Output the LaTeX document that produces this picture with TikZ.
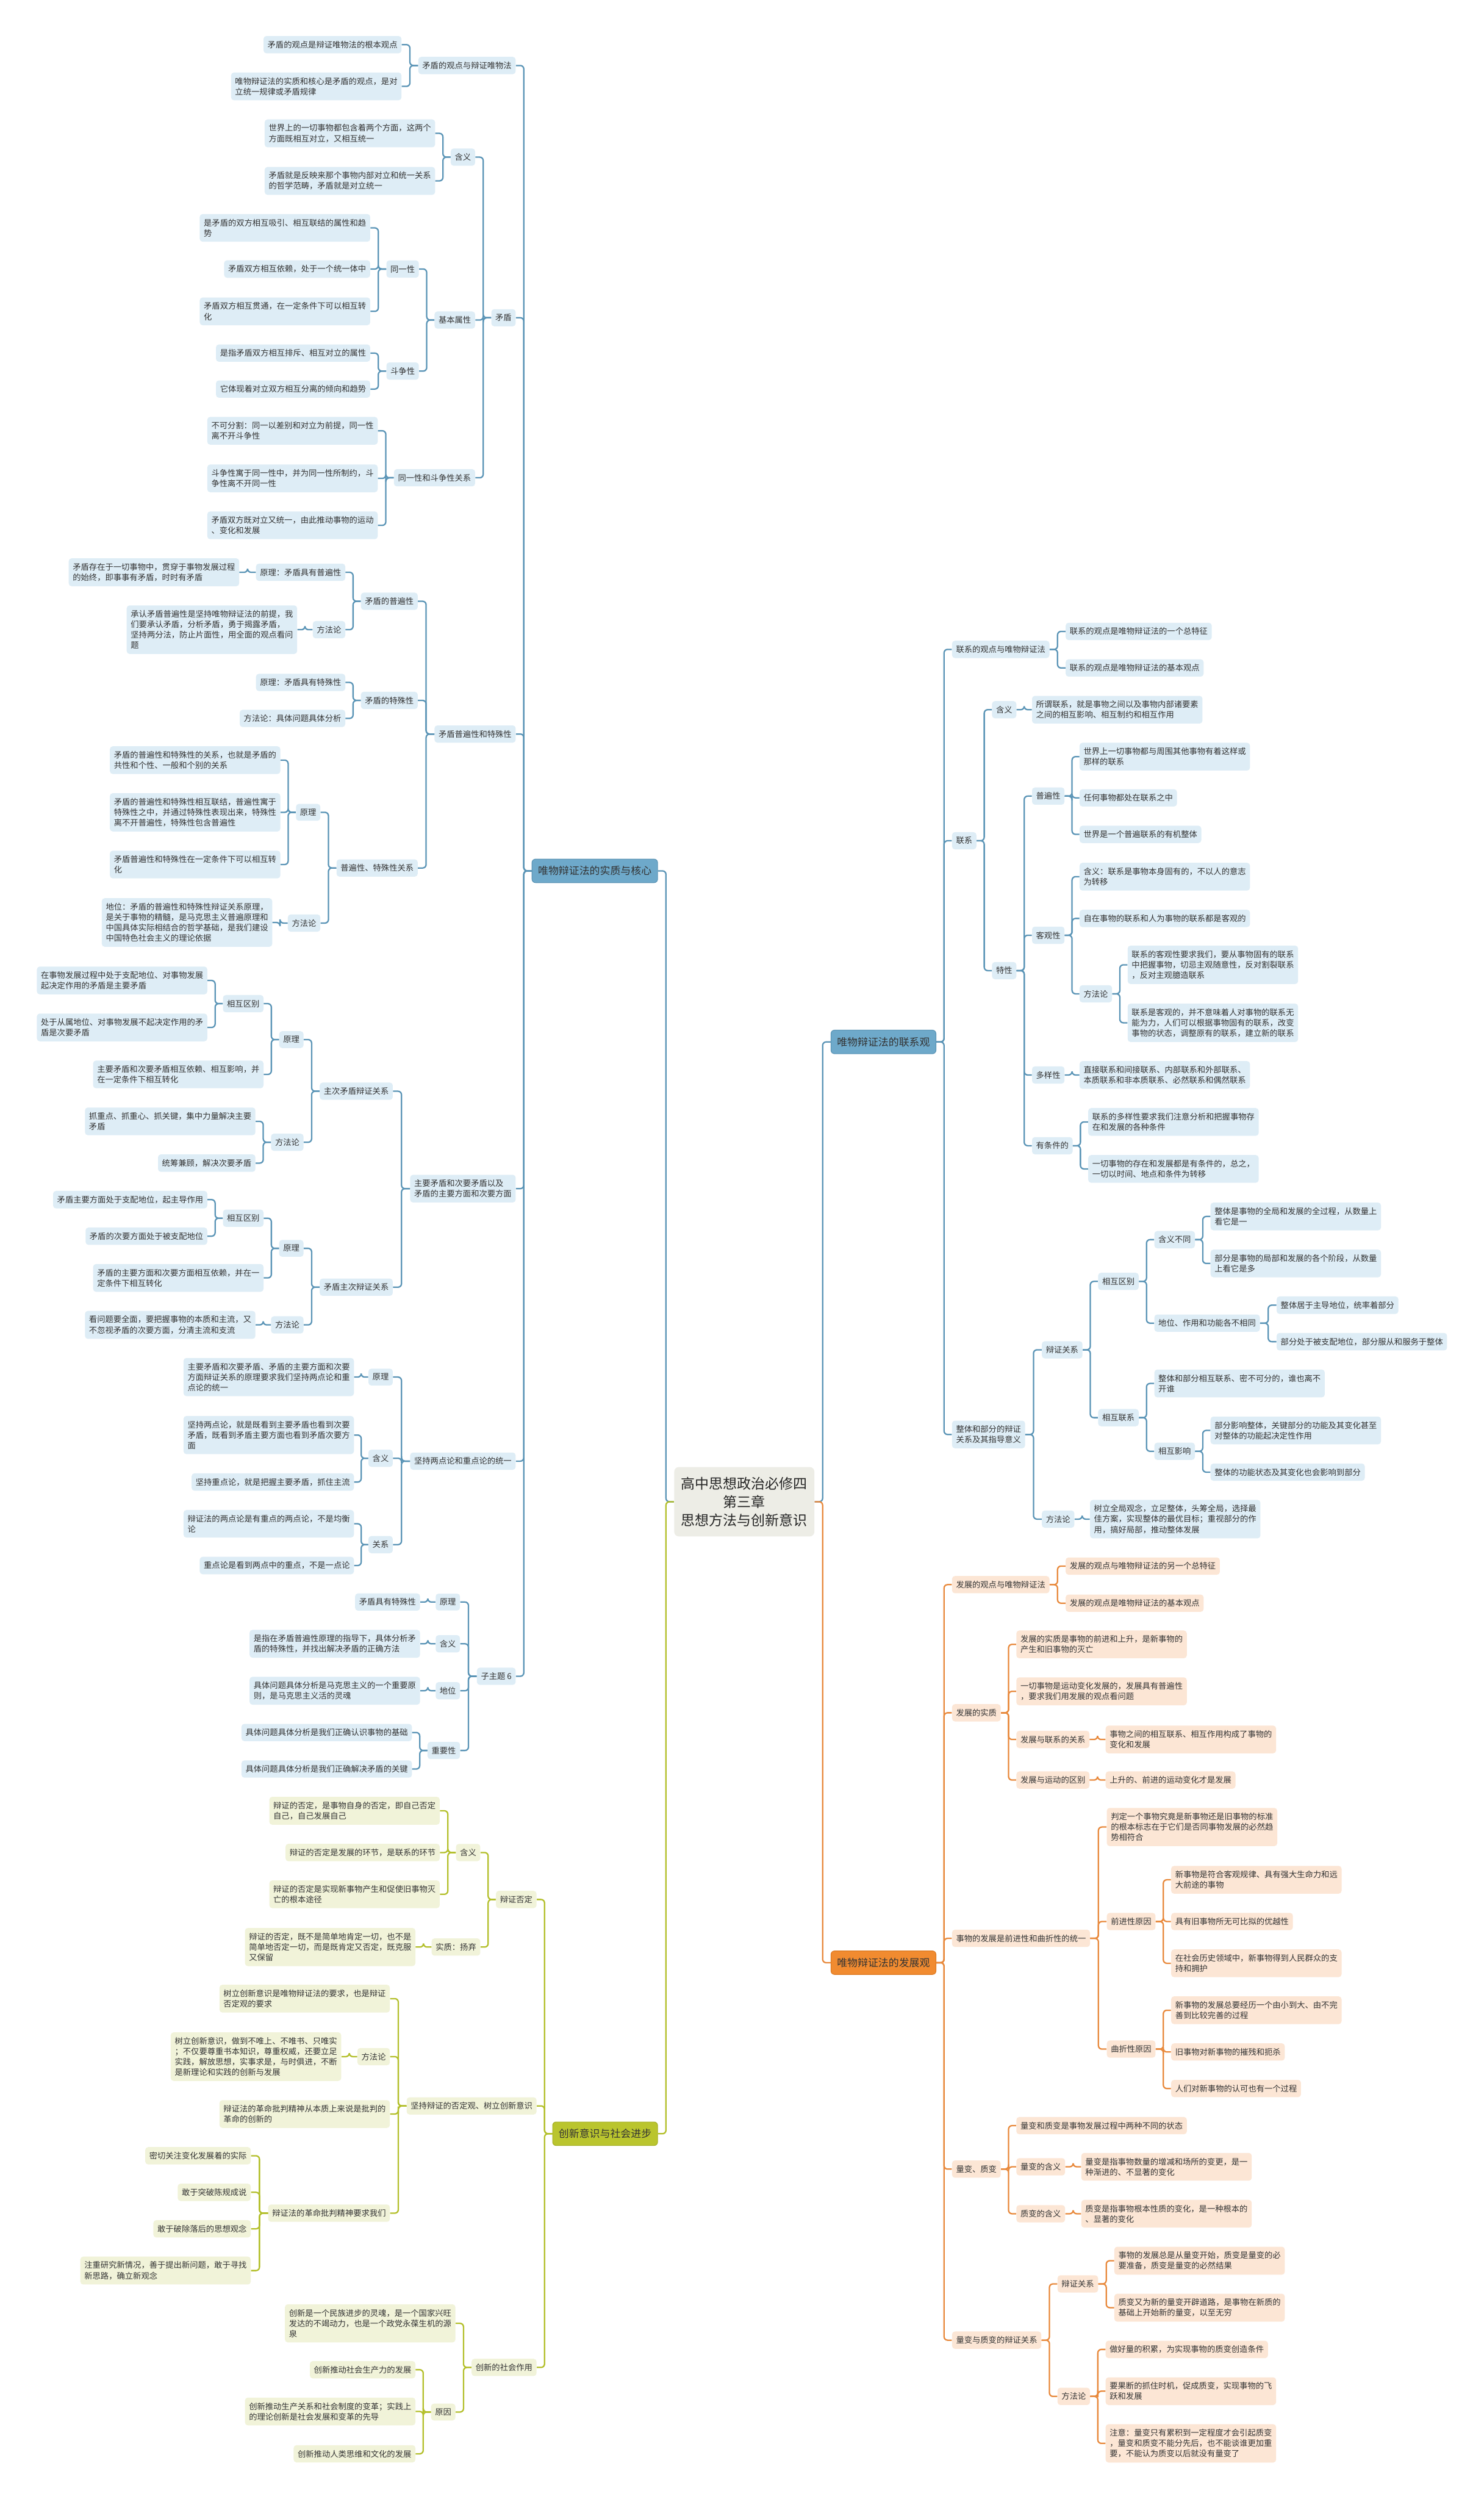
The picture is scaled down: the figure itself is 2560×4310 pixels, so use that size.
\documentclass[tikz,border=0pt]{standalone}
\usepackage{fontspec}
\setmainfont{Noto Sans CJK SC}
\usetikzlibrary{calc}
\definecolor{txt}{HTML}{333333}
\definecolor{bF}{HTML}{DEEDF6}
\definecolor{bL}{HTML}{5A94B6}
\definecolor{bM}{HTML}{6EA9CA}
\definecolor{bMd}{HTML}{5B95B6}
\definecolor{gF}{HTML}{F1F3D9}
\definecolor{gL}{HTML}{B3BF2A}
\definecolor{gM}{HTML}{BAC52E}
\definecolor{gMd}{HTML}{A5B024}
\definecolor{oF}{HTML}{FCE6D5}
\definecolor{oL}{HTML}{E8893C}
\definecolor{oM}{HTML}{F18B30}
\definecolor{oMd}{HTML}{DD7A22}
\definecolor{cF}{HTML}{EDEDE6}
\newcommand\fs{\fontsize{7}{9}\selectfont}
\newcommand\fm{\fontsize{8.9}{11}\selectfont}
\newcommand\fc{\fontsize{12.1}{15.8}\selectfont}
\newcommand\LC[3]{\draw[#1] (#2.west) -| ($(#2.west)!.5!(#3.east)$) |- (#3.east);}
\newcommand\RC[3]{\draw[#1] (#2.east) -| ($(#2.east)!.5!(#3.west)$) |- (#3.west);}
\tikzset{
 base/.style={rounded corners=2.5pt, inner xsep=3.5pt, inner ysep=4.2pt, align=left, text=txt, font=\fs},
 nb/.style={base, fill=bF}, ng/.style={base, fill=gF}, no/.style={base, fill=oF},
 L/.style={anchor=east}, R/.style={anchor=west},
 mainbox/.style={rounded corners=3pt, line width=0.6pt, inner xsep=5.2pt, inner ysep=6pt, font=\fm, text=txt},
 mB/.style={mainbox, fill=bM, draw=bMd},
 mG/.style={mainbox, fill=gM, draw=gMd},
 mO/.style={mainbox, fill=oM, draw=oMd},
 eb/.style={draw=bL, line width=1.2pt, rounded corners=3pt},
 eg/.style={draw=gL, line width=1.2pt, rounded corners=3pt},
 eo/.style={draw=oL, line width=1.2pt, rounded corners=3pt},
 topic/.style={rounded corners=4pt, fill=cF, align=center, font=\fc, text=black!85, inner xsep=6pt, inner ysep=8.5pt}
}
\begin{document}
\begin{tikzpicture}[x=0.5pt,y=-0.5pt]
\useasboundingbox[fill=white] (0,0) rectangle (2560,4310);
% center
\node[topic] (T) at (1284,2590) {高中思想政治必修四\\第三章\\思想方法与创新意识};
% ===== left blue =====
\node[mB,L] (A) at (1135,1502) {唯物辩证法的实质与核心};
\node[nb,L] (A1) at (890,113) {矛盾的观点与辩证唯物法};
\node[nb,L] (A1a) at (693,77) {矛盾的观点是辩证唯物法的根本观点};
\node[nb,L] (A1b) at (693,149) {唯物辩证法的实质和核心是矛盾的观点，是对\\立统一规律或矛盾规律};
\node[nb,L] (A2) at (890,548) {矛盾};
\node[nb,L] (A2a) at (820,271) {含义};
\node[nb,L] (A2a1) at (751,230) {世界上的一切事物都包含着两个方面，这两个\\方面既相互对立，又相互统一};
\node[nb,L] (A2a2) at (751,312) {矛盾就是反映来那个事物内部对立和统一关系\\的哲学范畴，矛盾就是对立统一};
\node[nb,L] (A2b) at (820,552) {基本属性};
\node[nb,L] (A2b1) at (723,464) {同一性};
\node[nb,L] (A2b1a) at (639,393) {是矛盾的双方相互吸引、相互联结的属性和趋\\势};
\node[nb,L] (A2b1b) at (639,464) {矛盾双方相互依赖，处于一个统一体中};
\node[nb,L] (A2b1c) at (639,537) {矛盾双方相互贯通，在一定条件下可以相互转\\化};
\node[nb,L] (A2b2) at (723,640) {斗争性};
\node[nb,L] (A2b2a) at (639,609) {是指矛盾双方相互排斥、相互对立的属性};
\node[nb,L] (A2b2b) at (639,671) {它体现着对立双方相互分离的倾向和趋势};
\node[nb,L] (A2c) at (820,824) {同一性和斗争性关系};
\node[nb,L] (A2c1) at (652,743) {不可分割：同一以差别和对立为前提，同一性\\离不开斗争性};
\node[nb,L] (A2c2) at (652,825) {斗争性寓于同一性中，并为同一性所制约，斗\\争性离不开同一性};
\node[nb,L] (A2c3) at (652,906) {矛盾双方既对立又统一，由此推动事物的运动\\、变化和发展};
\node[nb,L] (A3) at (890,1266) {矛盾普遍性和特殊性};
\node[nb,L] (A3a) at (721,1037) {矛盾的普遍性};
\node[nb,L] (A3a1) at (596,987) {原理：矛盾具有普遍性};
\node[nb,L] (A3a1a) at (413,987) {矛盾存在于一切事物中，贯穿于事物发展过程\\的始终，即事事有矛盾，时时有矛盾};
\node[nb,L] (A3a2) at (596,1086) {方法论};
\node[nb,L] (A3a2a) at (513,1086) {承认矛盾普遍性是坚持唯物辩证法的前提，我\\们要承认矛盾，分析矛盾，勇于揭露矛盾，\\坚持两分法，防止片面性，用全面的观点看问\\题};
\node[nb,L] (A3b) at (721,1208) {矛盾的特殊性};
\node[nb,L] (A3b1) at (596,1177) {原理：矛盾具有特殊性};
\node[nb,L] (A3b2) at (596,1239) {方法论：具体问题具体分析};
\node[nb,L] (A3c) at (721,1497) {普遍性、特殊性关系};
\node[nb,L] (A3c1) at (553,1401) {原理};
\node[nb,L] (A3c1a) at (484,1311) {矛盾的普遍性和特殊性的关系，也就是矛盾的\\共性和个性、一般和个别的关系};
\node[nb,L] (A3c1b) at (484,1401) {矛盾的普遍性和特殊性相互联结，普遍性寓于\\特殊性之中，并通过特殊性表现出来，特殊性\\离不开普遍性，特殊性包含普遍性};
\node[nb,L] (A3c1c) at (484,1491) {矛盾普遍性和特殊性在一定条件下可以相互转\\化};
\node[nb,L] (A3c2) at (553,1592) {方法论};
\node[nb,L] (A3c2a) at (470,1591) {地位：矛盾的普遍性和特殊性辩证关系原理，\\是关于事物的精髓，是马克思主义普遍原理和\\中国具体实际相结合的哲学基础，是我们建设\\中国特色社会主义的理论依据};
\node[nb,L] (A4) at (890,2050) {主要矛盾和次要矛盾以及\\矛盾的主要方面和次要方面};
\node[nb,L] (A4a) at (678,1882) {主次矛盾辩证关系};
\node[nb,L] (A4a1) at (524,1793) {原理};
\node[nb,L] (A4a1a) at (455,1731) {相互区别};
\node[nb,L] (A4a1a1) at (358,1691) {在事物发展过程中处于支配地位、对事物发展\\起决定作用的矛盾是主要矛盾};
\node[nb,L] (A4a1a2) at (358,1772) {处于从属地位、对事物发展不起决定作用的矛\\盾是次要矛盾};
\node[nb,L] (A4a1b) at (455,1853) {主要矛盾和次要矛盾相互依赖、相互影响，并\\在一定条件下相互转化};
\node[nb,L] (A4a2) at (524,1970) {方法论};
\node[nb,L] (A4a2a) at (441,1934) {抓重点、抓重心、抓关键，集中力量解决主要\\矛盾};
\node[nb,L] (A4a2b) at (441,2006) {统筹兼顾，解决次要矛盾};
\node[nb,L] (A4b) at (678,2220) {矛盾主次辩证关系};
\node[nb,L] (A4b1) at (524,2153) {原理};
\node[nb,L] (A4b1a) at (455,2101) {相互区别};
\node[nb,L] (A4b1a1) at (358,2069) {矛盾主要方面处于支配地位，起主导作用};
\node[nb,L] (A4b1a2) at (358,2132) {矛盾的次要方面处于被支配地位};
\node[nb,L] (A4b1b) at (455,2204) {矛盾的主要方面和次要方面相互依赖，并在一\\定条件下相互转化};
\node[nb,L] (A4b2) at (524,2285) {方法论};
\node[nb,L] (A4b2a) at (441,2285) {看问题要全面，要把握事物的本质和主流，又\\不忽视矛盾的次要方面，分清主流和支流};
\node[nb,L] (A5) at (890,2520) {坚持两点论和重点论的统一};
\node[nb,L] (A5a) at (678,2375) {原理};
\node[nb,L] (A5a1) at (611,2375) {主要矛盾和次要矛盾、矛盾的主要方面和次要\\方面辩证关系的原理要求我们坚持两点论和重\\点论的统一};
\node[nb,L] (A5b) at (678,2515) {含义};
\node[nb,L] (A5b1) at (611,2475) {坚持两点论，就是既看到主要矛盾也看到次要\\矛盾，既看到矛盾主要方面也看到矛盾次要方\\面};
\node[nb,L] (A5b2) at (611,2556) {坚持重点论，就是把握主要矛盾，抓住主流};
\node[nb,L] (A5c) at (678,2664) {关系};
\node[nb,L] (A5c1) at (611,2628) {辩证法的两点论是有重点的两点论，不是均衡\\论};
\node[nb,L] (A5c2) at (611,2700) {重点论是看到两点中的重点，不是一点论};
\node[nb,L] (A6) at (890,2891) {子主题 6};
\node[nb,L] (A6a) at (794,2763) {原理};
\node[nb,L] (A6a1) at (725,2763) {矛盾具有特殊性};
\node[nb,L] (A6b) at (794,2835) {含义};
\node[nb,L] (A6b1) at (725,2835) {是指在矛盾普遍性原理的指导下，具体分析矛\\盾的特殊性，并找出解决矛盾的正确方法};
\node[nb,L] (A6c) at (794,2916) {地位};
\node[nb,L] (A6c1) at (725,2916) {具体问题具体分析是马克思主义的一个重要原\\则，是马克思主义活的灵魂};
\node[nb,L] (A6d) at (794,3019) {重要性};
\node[nb,L] (A6d1) at (711,2988) {具体问题具体分析是我们正确认识事物的基础};
\node[nb,L] (A6d2) at (711,3051) {具体问题具体分析是我们正确解决矛盾的关键};
% ===== left green =====
\node[mG,L] (G) at (1135,3680) {创新意识与社会进步};
\node[ng,L] (G1) at (926,3276) {辩证否定};
\node[ng,L] (G1a) at (829,3195) {含义};
\node[ng,L] (G1a1) at (759,3123) {辩证的否定，是事物自身的否定，即自己否定\\自己，自己发展自己};
\node[ng,L] (G1a2) at (759,3195) {辩证的否定是发展的环节，是联系的环节};
\node[ng,L] (G1a3) at (759,3267) {辩证的否定是实现新事物产生和促使旧事物灭\\亡的根本途径};
\node[ng,L] (G1b) at (829,3358) {实质：扬弃};
\node[ng,L] (G1b1) at (717,3358) {辩证的否定，既不是简单地肯定一切，也不是\\简单地否定一切，而是既肯定又否定，既克服\\又保留};
\node[ng,L] (G2) at (926,3632) {坚持辩证的否定观、树立创新意识};
\node[ng,L] (G2a) at (673,3447) {树立创新意识是唯物辩证法的要求，也是辩证\\否定观的要求};
\node[ng,L] (G2b) at (673,3547) {方法论};
\node[ng,L] (G2b1) at (589,3547) {树立创新意识，做到不唯上、不唯书、只唯实\\；不仅要尊重书本知识，尊重权威，还要立足\\实践，解放思想，实事求是，与时俱进，不断\\是新理论和实践的创新与发展};
\node[ng,L] (G2c) at (673,3646) {辩证法的革命批判精神从本质上来说是批判的\\革命的创新的};
\node[ng,L] (G2d) at (673,3817) {辩证法的革命批判精神要求我们};
\node[ng,L] (G2d1) at (433,3718) {密切关注变化发展着的实际};
\node[ng,L] (G2d2) at (433,3781) {敢于突破陈规成说};
\node[ng,L] (G2d3) at (433,3844) {敢于破除落后的思想观念};
\node[ng,L] (G2d4) at (433,3916) {注重研究新情况，善于提出新问题，敢于寻找\\新思路，确立新观念};
\node[ng,L] (G3) at (926,4083) {创新的社会作用};
\node[ng,L] (G3a) at (786,4007) {创新是一个民族进步的灵魂，是一个国家兴旺\\发达的不竭动力，也是一个政党永葆生机的源\\泉};
\node[ng,L] (G3b) at (786,4160) {原因};
\node[ng,L] (G3b1) at (717,4087) {创新推动社会生产力的发展};
\node[ng,L] (G3b2) at (717,4159) {创新推动生产关系和社会制度的变革；实践上\\的理论创新是社会发展和变革的先导};
\node[ng,L] (G3b3) at (717,4232) {创新推动人类思维和文化的发展};
% ===== right blue =====
\node[mB,R] (B) at (1433,1797) {唯物辩证法的联系观};
\node[nb,R] (B1) at (1642,1120) {联系的观点与唯物辩证法};
\node[nb,R] (B1a) at (1838,1089) {联系的观点是唯物辩证法的一个总特征};
\node[nb,R] (B1b) at (1838,1152) {联系的观点是唯物辩证法的基本观点};
\node[nb,R] (B2) at (1642,1450) {联系};
\node[nb,R] (B2a) at (1711,1224) {含义};
\node[nb,R] (B2a1) at (1780,1224) {所谓联系，就是事物之间以及事物内部诸要素\\之间的相互影响、相互制约和相互作用};
\node[nb,R] (B2b) at (1711,1674) {特性};
\node[nb,R] (B2b1) at (1780,1373) {普遍性};
\node[nb,R] (B2b1a) at (1862,1305) {世界上一切事物都与周围其他事物有着这样或\\那样的联系};
\node[nb,R] (B2b1b) at (1862,1376) {任何事物都处在联系之中};
\node[nb,R] (B2b1c) at (1862,1439) {世界是一个普遍联系的有机整体};
\node[nb,R] (B2b2) at (1780,1613) {客观性};
\node[nb,R] (B2b2a) at (1862,1512) {含义：联系是事物本身固有的，不以人的意志\\为转移};
\node[nb,R] (B2b2b) at (1862,1584) {自在事物的联系和人为事物的联系都是客观的};
\node[nb,R] (B2b2c) at (1862,1714) {方法论};
\node[nb,R] (B2b2c1) at (1945,1664) {联系的客观性要求我们，要从事物固有的联系\\中把握事物，切忌主观随意性，反对割裂联系\\，反对主观臆造联系};
\node[nb,R] (B2b2c2) at (1945,1764) {联系是客观的，并不意味着人对事物的联系无\\能为力，人们可以根据事物固有的联系，改变\\事物的状态，调整原有的联系，建立新的联系};
\node[nb,R] (B2b3) at (1780,1854) {多样性};
\node[nb,R] (B2b3a) at (1862,1854) {直接联系和间接联系、内部联系和外部联系、\\本质联系和非本质联系、必然联系和偶然联系};
\node[nb,R] (B2b4) at (1780,1976) {有条件的};
\node[nb,R] (B2b4a) at (1877,1935) {联系的多样性要求我们注意分析和把握事物存\\在和发展的各种条件};
\node[nb,R] (B2b4b) at (1877,2016) {一切事物的存在和发展都是有条件的，总之，\\一切以时间、地点和条件为转移};
\node[nb,R] (B3) at (1642,2474) {整体和部分的辩证\\关系及其指导意义};
\node[nb,R] (B3a) at (1797,2328) {辩证关系};
\node[nb,R] (B3a1) at (1894,2210) {相互区别};
\node[nb,R] (B3a1a) at (1991,2138) {含义不同};
\node[nb,R] (B3a1a1) at (2088,2098) {整体是事物的全局和发展的全过程，从数量上\\看它是一};
\node[nb,R] (B3a1a2) at (2088,2179) {部分是事物的局部和发展的各个阶段，从数量\\上看它是多};
\node[nb,R] (B3a1b) at (1991,2282) {地位、作用和功能各不相同};
\node[nb,R] (B3a1b1) at (2202,2251) {整体居于主导地位，统率着部分};
\node[nb,R] (B3a1b2) at (2202,2314) {部分处于被支配地位，部分服从和服务于整体};
\node[nb,R] (B3a2) at (1894,2445) {相互联系};
\node[nb,R] (B3a2a) at (1991,2386) {整体和部分相互联系、密不可分的，谁也离不\\开谁};
\node[nb,R] (B3a2b) at (1991,2503) {相互影响};
\node[nb,R] (B3a2b1) at (2088,2467) {部分影响整体，关键部分的功能及其变化甚至\\对整体的功能起决定性作用};
\node[nb,R] (B3a2b2) at (2088,2539) {整体的功能状态及其变化也会影响到部分};
\node[nb,R] (B3b) at (1797,2620) {方法论};
\node[nb,R] (B3b1) at (1880,2620) {树立全局观念，立足整体，头筹全局，选择最\\佳方案，实现整体的最优目标；重视部分的作\\用，搞好局部，推动整体发展};
% ===== right orange =====
\node[mO,R] (C) at (1433,3385) {唯物辩证法的发展观};
\node[no,R] (C1) at (1642,2733) {发展的观点与唯物辩证法};
\node[no,R] (C1a) at (1838,2701) {发展的观点与唯物辩证法的另一个总特征};
\node[no,R] (C1b) at (1838,2765) {发展的观点是唯物辩证法的基本观点};
\node[no,R] (C2) at (1642,2954) {发展的实质};
\node[no,R] (C2a) at (1753,2836) {发展的实质是事物的前进和上升，是新事物的\\产生和旧事物的灭亡};
\node[no,R] (C2b) at (1753,2917) {一切事物是运动变化发展的，发展具有普遍性\\，要求我们用发展的观点看问题};
\node[no,R] (C2c) at (1753,3000) {发展与联系的关系};
\node[no,R] (C2c1) at (1907,3000) {事物之间的相互联系、相互作用构成了事物的\\变化和发展};
\node[no,R] (C2d) at (1753,3070) {发展与运动的区别};
\node[no,R] (C2d1) at (1907,3070) {上升的、前进的运动变化才是发展};
\node[no,R] (C3) at (1642,3343) {事物的发展是前进性和曲折性的统一};
\node[no,R] (C3a) at (1909,3151) {判定一个事物究竟是新事物还是旧事物的标准\\的根本标志在于它们是否同事物发展的必然趋\\势相符合};
\node[no,R] (C3b) at (1909,3314) {前进性原因};
\node[no,R] (C3b1) at (2020,3242) {新事物是符合客观规律、具有强大生命力和远\\大前途的事物};
\node[no,R] (C3b2) at (2020,3314) {具有旧事物所无可比拟的优越性};
\node[no,R] (C3b3) at (2020,3386) {在社会历史领域中，新事物得到人民群众的支\\持和拥护};
\node[no,R] (C3c) at (1909,3534) {曲折性原因};
\node[no,R] (C3c1) at (2020,3467) {新事物的发展总要经历一个由小到大、由不完\\善到比较完善的过程};
\node[no,R] (C3c2) at (2020,3539) {旧事物对新事物的摧残和扼杀};
\node[no,R] (C3c3) at (2020,3602) {人们对新事物的认可也有一个过程};
\node[no,R] (C4) at (1642,3741) {量变、质变};
\node[no,R] (C4a) at (1753,3666) {量变和质变是事物发展过程中两种不同的状态};
\node[no,R] (C4b) at (1753,3737) {量变的含义};
\node[no,R] (C4b1) at (1865,3737) {量变是指事物数量的增减和场所的变更，是一\\种渐进的、不显著的变化};
\node[no,R] (C4c) at (1753,3818) {质变的含义};
\node[no,R] (C4c1) at (1865,3818) {质变是指事物根本性质的变化，是一种根本的\\、显著的变化};
\node[no,R] (C5) at (1642,4036) {量变与质变的辩证关系};
\node[no,R] (C5a) at (1824,3939) {辩证关系};
\node[no,R] (C5a1) at (1922,3899) {事物的发展总是从量变开始，质变是量变的必\\要准备，质变是量变的必然结果};
\node[no,R] (C5a2) at (1922,3980) {质变又为新的量变开辟道路，是事物在新质的\\基础上开始新的量变，以至无穷};
\node[no,R] (C5b) at (1824,4133) {方法论};
\node[no,R] (C5b1) at (1907,4052) {做好量的积累，为实现事物的质变创造条件};
\node[no,R] (C5b2) at (1907,4124) {要果断的抓住时机，促成质变，实现事物的飞\\跃和发展};
\node[no,R] (C5b3) at (1907,4214) {注意：量变只有累积到一定程度才会引起质变\\，量变和质变不能分先后，也不能谈谁更加重\\要，不能认为质变以后就没有量变了};
% ===== connectors =====
\LC{eb}{T}{A}
\LC{eg}{T}{G}
\RC{eb}{T}{B}
\RC{eo}{T}{C}
\foreach \p/\c in {A/A1,A1/A1a,A1/A1b,A/A2,A2/A2a,A2a/A2a1,A2a/A2a2,A2/A2b,A2b/A2b1,A2b1/A2b1a,A2b1/A2b1b,A2b1/A2b1c,A2b/A2b2,A2b2/A2b2a,A2b2/A2b2b,A2/A2c,A2c/A2c1,A2c/A2c2,A2c/A2c3,
 A/A3,A3/A3a,A3a/A3a1,A3a1/A3a1a,A3a/A3a2,A3a2/A3a2a,A3/A3b,A3b/A3b1,A3b/A3b2,A3/A3c,A3c/A3c1,A3c1/A3c1a,A3c1/A3c1b,A3c1/A3c1c,A3c/A3c2,A3c2/A3c2a,
 A/A4,A4/A4a,A4a/A4a1,A4a1/A4a1a,A4a1a/A4a1a1,A4a1a/A4a1a2,A4a1/A4a1b,A4a/A4a2,A4a2/A4a2a,A4a2/A4a2b,A4/A4b,A4b/A4b1,A4b1/A4b1a,A4b1a/A4b1a1,A4b1a/A4b1a2,A4b1/A4b1b,A4b/A4b2,A4b2/A4b2a,
 A/A5,A5/A5a,A5a/A5a1,A5/A5b,A5b/A5b1,A5b/A5b2,A5/A5c,A5c/A5c1,A5c/A5c2,
 A/A6,A6/A6a,A6a/A6a1,A6/A6b,A6b/A6b1,A6/A6c,A6c/A6c1,A6/A6d,A6d/A6d1,A6d/A6d2}
 {\LC{eb}{\p}{\c}}
\foreach \p/\c in {G/G1,G1/G1a,G1a/G1a1,G1a/G1a2,G1a/G1a3,G1/G1b,G1b/G1b1,G/G2,G2/G2a,G2/G2b,G2b/G2b1,G2/G2c,G2/G2d,G2d/G2d1,G2d/G2d2,G2d/G2d3,G2d/G2d4,G/G3,G3/G3a,G3/G3b,G3b/G3b1,G3b/G3b2,G3b/G3b3}
 {\LC{eg}{\p}{\c}}
\foreach \p/\c in {B/B1,B1/B1a,B1/B1b,B/B2,B2/B2a,B2a/B2a1,B2/B2b,B2b/B2b1,B2b1/B2b1a,B2b1/B2b1b,B2b1/B2b1c,B2b/B2b2,B2b2/B2b2a,B2b2/B2b2b,B2b2/B2b2c,B2b2c/B2b2c1,B2b2c/B2b2c2,B2b/B2b3,B2b3/B2b3a,B2b/B2b4,B2b4/B2b4a,B2b4/B2b4b,
 B/B3,B3/B3a,B3a/B3a1,B3a1/B3a1a,B3a1a/B3a1a1,B3a1a/B3a1a2,B3a1/B3a1b,B3a1b/B3a1b1,B3a1b/B3a1b2,B3a/B3a2,B3a2/B3a2a,B3a2/B3a2b,B3a2b/B3a2b1,B3a2b/B3a2b2,B3/B3b,B3b/B3b1}
 {\RC{eb}{\p}{\c}}
\foreach \p/\c in {C/C1,C1/C1a,C1/C1b,C/C2,C2/C2a,C2/C2b,C2/C2c,C2c/C2c1,C2/C2d,C2d/C2d1,C/C3,C3/C3a,C3/C3b,C3b/C3b1,C3b/C3b2,C3b/C3b3,C3/C3c,C3c/C3c1,C3c/C3c2,C3c/C3c3,
 C/C4,C4/C4a,C4/C4b,C4b/C4b1,C4/C4c,C4c/C4c1,C/C5,C5/C5a,C5a/C5a1,C5a/C5a2,C5/C5b,C5b/C5b1,C5b/C5b2,C5b/C5b3}
 {\RC{eo}{\p}{\c}}
\end{tikzpicture}
\end{document}
